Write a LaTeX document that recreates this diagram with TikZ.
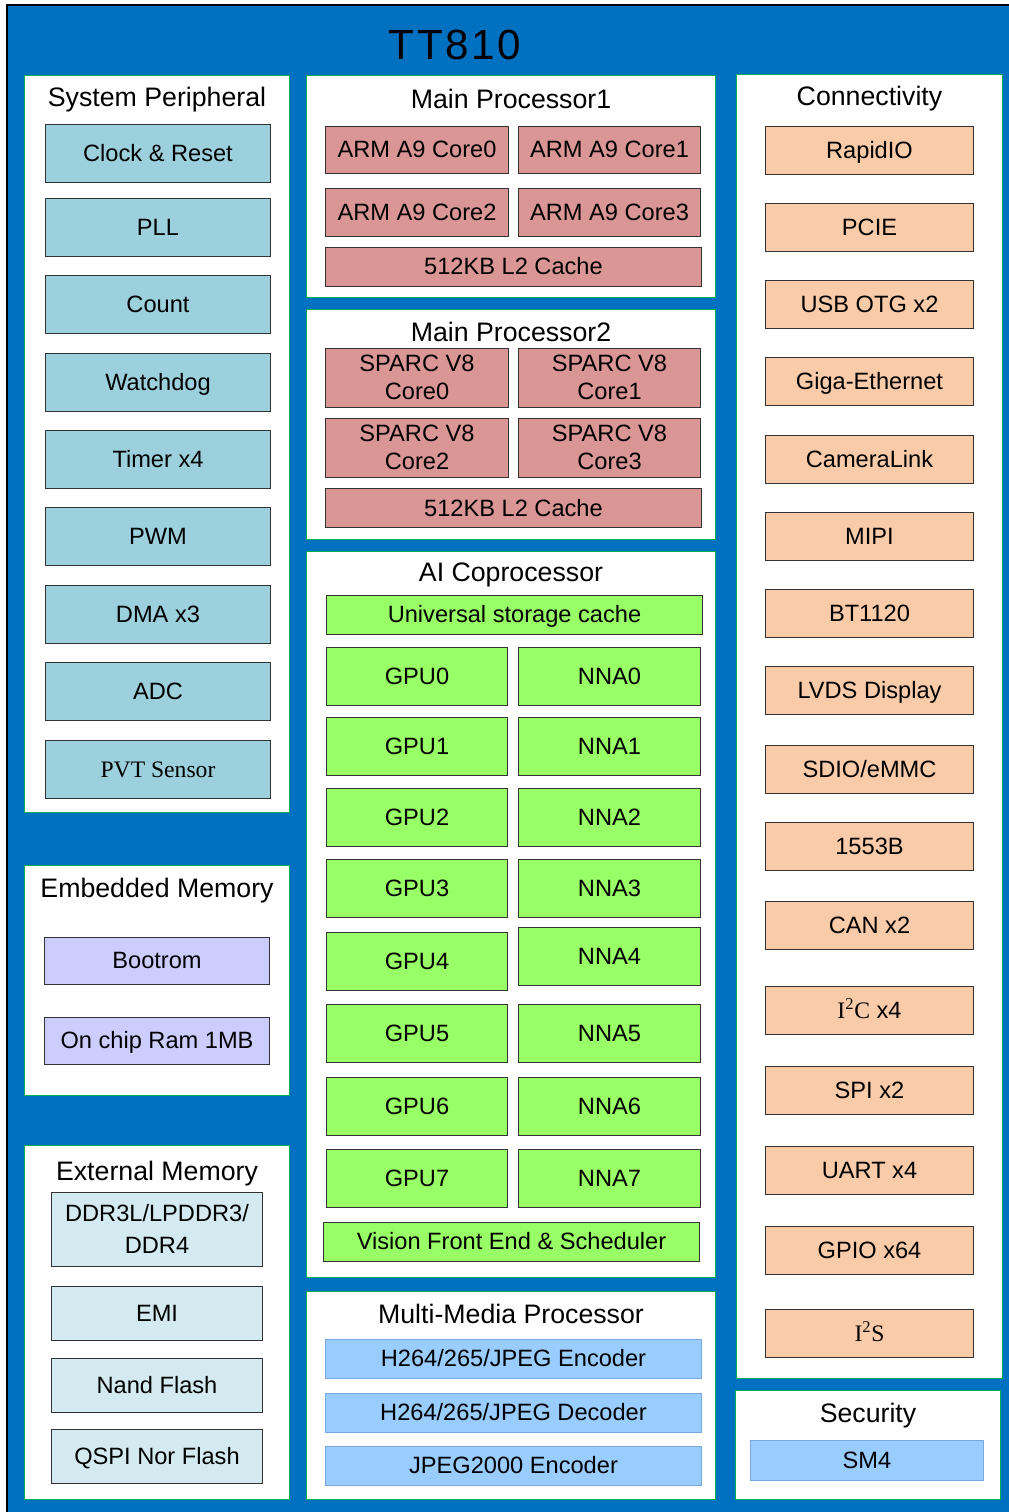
\documentclass[tikz,border=0pt]{standalone}
\usepackage{fontspec}
\setmainfont{Liberation Sans}
\newfontfamily\timesface{Liberation Serif}
\usetikzlibrary{positioning,calc}
\definecolor{chipblue}{RGB}{0,112,192}
\definecolor{panelgreen}{RGB}{0,176,80}
\definecolor{periphfill}{RGB}{155,208,220}
\definecolor{cpufill}{RGB}{217,150,148}
\definecolor{aifill}{RGB}{153,255,102}
\definecolor{connfill}{RGB}{250,203,168}
\definecolor{embfill}{RGB}{204,204,255}
\definecolor{extfill}{RGB}{210,234,240}
\definecolor{mmfill}{RGB}{153,204,255}
\definecolor{mmline}{RGB}{120,170,225}

\begin{document}
\begin{tikzpicture}[
  x=0.025cm, y=-0.025cm,
  panel/.style={rectangle, draw=panelgreen, line width=0.7pt, fill=white,
    inner sep=0pt},
  ptitle/.style={inner sep=0pt, font=\fontsize{19}{23}\selectfont,
    text height=15pt, text depth=1.4pt},
  box/.style={rectangle, draw=black!80, line width=0.7pt, inner sep=0pt,
    align=center, font=\fontsize{16.8}{19.5}\selectfont,
    text height=13.5pt, text depth=1.5pt},
  twolines/.style={text height={}, text depth={}},
  periph/.style={box, fill=periphfill, minimum width=5.6cm, minimum height=1.45cm},
  cpu/.style={box, fill=cpufill, minimum width=4.55cm, minimum height=1.2cm},
  cache/.style={box, fill=cpufill, minimum width=9.375cm, minimum height=0.975cm},
  ai/.style={box, fill=aifill, minimum width=4.525cm, minimum height=1.45cm},
  aiwide/.style={box, fill=aifill, minimum width=9.375cm, minimum height=0.975cm},
  mm/.style={box, draw=mmline, fill=mmfill, minimum width=9.375cm,
    minimum height=0.975cm},
  conn/.style={box, fill=connfill, minimum width=5.175cm, minimum height=1.2cm},
  emb/.style={box, fill=embfill, minimum width=5.6cm, minimum height=1.175cm},
  ext/.style={box, fill=extfill, minimum width=5.25cm, minimum height=1.35cm}
]
  \useasboundingbox (0,0) rectangle (1008,1512);
  \filldraw[fill=chipblue, draw=black, line width=1.4pt] (7,5) rectangle (1020,1525);
  \node[font=\fontsize{30}{36}\selectfont\addfontfeatures{LetterSpace=6}]
    (chip) at (455,45) {TT810};

  % panels
  \node[panel, minimum width=6.6cm, minimum height=18.4cm]     (sysp) at (157,444) {};
  \node[panel, minimum width=6.6cm, minimum height=5.725cm]    (embm) at (157,980.5) {};
  \node[panel, minimum width=6.6cm, minimum height=8.825cm]    (extm) at (157,1322.5) {};
  \node[panel, minimum width=10.2cm, minimum height=5.525cm]   (mp1) at (511,186.5) {};
  \node[panel, minimum width=10.2cm, minimum height=5.725cm]   (mp2) at (511,424.5) {};
  \node[panel, minimum width=10.2cm, minimum height=18.125cm]  (aicp) at (511,914.5) {};
  \node[panel, minimum width=10.2cm, minimum height=5.175cm]   (mmp) at (511,1395.5) {};
  \node[panel, minimum width=6.625cm, minimum height=32.575cm] (cnty) at (869.5,726.5) {};
  \node[panel, minimum width=6.6cm, minimum height=2.725cm]    (secu) at (868,1444.5) {};

  \node[ptitle] (sysp-t) at ($(sysp.north)+(0,22)$) {System Peripheral};
  \node[ptitle] (embm-t) at ($(embm.north)+(0,22)$) {Embedded Memory};
  \node[ptitle] (extm-t) at ($(extm.north)+(0,25)$) {External Memory};
  \node[ptitle] (mp1-t)  at ($(mp1.north)+(0,23)$)  {Main Processor1};
  \node[ptitle] (mp2-t)  at ($(mp2.north)+(0,22)$)  {Main Processor2};
  \node[ptitle] (aicp-t) at ($(aicp.north)+(0,21)$) {AI Coprocessor};
  \node[ptitle] (mmp-t)  at ($(mmp.north)+(0,22)$)  {Multi-Media Processor};
  \node[ptitle] (cnty-t) at ($(cnty.north)+(0,22)$) {Connectivity};
  \node[ptitle] (secu-t) at ($(secu.north)+(0,23)$) {Security};

  % system peripheral
  \node[periph] (clk) at (158,153) {Clock \& Reset};
  \node[periph] (pll) at (158,227) {PLL};
  \node[periph] (cnt) at (158,304) {Count};
  \node[periph] (wdt) at (158,382) {Watchdog};
  \node[periph] (tmr) at (158,459) {Timer x4};
  \node[periph] (pwm) at (158,536) {PWM};
  \node[periph] (dma) at (158,614) {DMA x3};
  \node[periph] (adc) at (158,691) {ADC};
  \node[periph] (pvt) at (158,769) {\timesface PVT Sensor};

  % memories
  \node[emb] (brom)  at (157,960.5)  {Bootrom};
  \node[emb] (ocram) at (157,1040.5) {On chip Ram 1MB};
  \node[ext, twolines, minimum height=1.85cm,
    font=\fontsize{16.8}{23}\selectfont] (ddr) at (157,1229) {DDR3L/LPDDR3/\\DDR4};
  \node[ext] (emi)  at (157,1313) {EMI};
  \node[ext] (nand) at (157,1385) {Nand Flash};
  \node[ext] (qspi) at (157,1456) {QSPI Nor Flash};

  % main processors
  \node[cpu, minimum height=1.175cm] (arm0) at (417,149.5) {ARM A9 Core0};
  \node[cpu, minimum height=1.175cm] (arm1) at (609.5,149.5) {ARM A9 Core1};
  \node[cpu] (arm2) at (417,212) {ARM A9 Core2};
  \node[cpu] (arm3) at (609.5,212) {ARM A9 Core3};
  \node[cache] (l2a) at (513.5,266.5) {512KB L2 Cache};

  \node[cpu, twolines, minimum height=1.475cm] (sparc0) at (417,377.5) {SPARC V8\\Core0};
  \node[cpu, twolines, minimum height=1.475cm] (sparc1) at (609.5,377.5) {SPARC V8\\Core1};
  \node[cpu, twolines, minimum height=1.475cm] (sparc2) at (417,447.5) {SPARC V8\\Core2};
  \node[cpu, twolines, minimum height=1.475cm] (sparc3) at (609.5,447.5) {SPARC V8\\Core3};
  \node[cache] (l2b) at (513.5,508) {512KB L2 Cache};

  % AI coprocessor
  \node[aiwide] (usc) at (514.5,614.5) {Universal storage cache};
  \node[ai] (gpu0) at (417,676)  {GPU0};
  \node[ai] (nna0) at (609.5,676)  {NNA0};
  \node[ai] (gpu1) at (417,746)  {GPU1};
  \node[ai] (nna1) at (609.5,746)  {NNA1};
  \node[ai] (gpu2) at (417,817)  {GPU2};
  \node[ai] (nna2) at (609.5,817)  {NNA2};
  \node[ai] (gpu3) at (417,888)  {GPU3};
  \node[ai] (nna3) at (609.5,888)  {NNA3};
  \node[ai] (gpu4) at (417,961)  {GPU4};
  \node[ai] (nna4) at (609.5,956)  {NNA4};
  \node[ai] (gpu5) at (417,1033) {GPU5};
  \node[ai] (nna5) at (609.5,1033) {NNA5};
  \node[ai] (gpu6) at (417,1106) {GPU6};
  \node[ai] (nna6) at (609.5,1106) {NNA6};
  \node[ai] (gpu7) at (417,1178) {GPU7};
  \node[ai] (nna7) at (609.5,1178) {NNA7};
  \node[aiwide] (vfe) at (511.5,1241.5) {Vision Front End \& Scheduler};

  % multi-media
  \node[mm] (henc) at (513.5,1358.5) {H264/265/JPEG Encoder};
  \node[mm] (hdec) at (513.5,1412.5) {H264/265/JPEG Decoder};
  \node[mm] (jenc) at (513.5,1465.5) {JPEG2000 Encoder};

  % connectivity
  \node[conn] (rio)  at (869.5,150.5) {RapidIO};
  \node[conn] (pcie) at (869.5,227.5) {PCIE};
  \node[conn] (usb)  at (869.5,304)   {USB OTG x2};
  \node[conn] (geth) at (869.5,381)   {Giga-Ethernet};
  \node[conn] (cam)  at (869.5,459)   {CameraLink};
  \node[conn] (mipi) at (869.5,536)   {MIPI};
  \node[conn] (bt)   at (869.5,613)   {BT1120};
  \node[conn] (lvds) at (869.5,690)   {LVDS Display};
  \node[conn] (sdio) at (869.5,769)   {SDIO/eMMC};
  \node[conn] (mil)  at (869.5,846)   {1553B};
  \node[conn] (can)  at (869.5,925)   {CAN x2};
  \node[conn] (iic)  at (869.5,1010)  {{\timesface I\textsuperscript{2}C} x4};
  \node[conn] (spi)  at (869.5,1090)  {SPI x2};
  \node[conn] (uart) at (869.5,1170)  {UART x4};
  \node[conn] (gpio) at (869.5,1250)  {GPIO x64};
  \node[conn] (iis)  at (869.5,1333)  {\timesface I\textsuperscript{2}S};

  % security
  \node[mm, minimum width=5.8cm, minimum height=1.0cm] (sm4) at (867,1460) {SM4};
\end{tikzpicture}
\end{document}
